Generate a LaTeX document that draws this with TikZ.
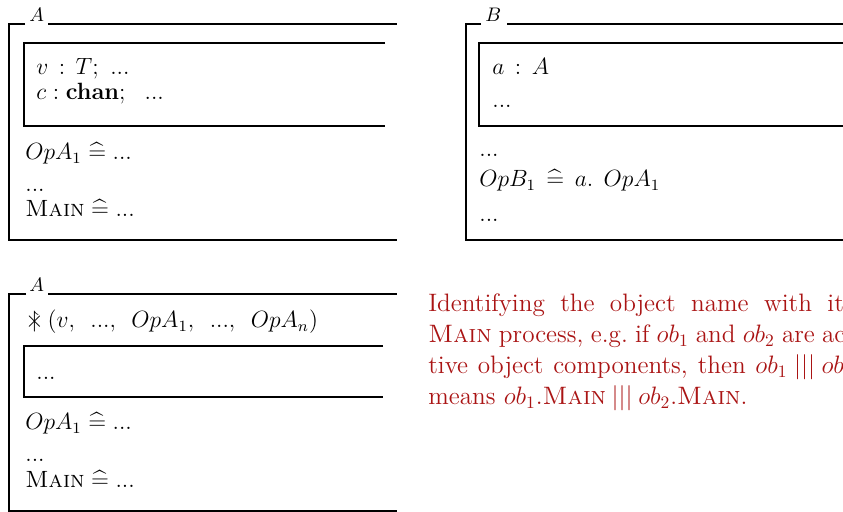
\documentclass[tikz,border=0pt]{standalone}
\usepackage{amssymb}
\definecolor{ozred}{RGB}{170,20,20}
\newcommand{\ozvis}{\mathord{\ooalign{\hfil$\upharpoonright$\hfil\cr\hfil$\times$\hfil\cr}}\,}
\newcommand{\ozdefs}{\mathrel{\widehat{=}}}
\tikzset{
  frame/.style={line width=1.2pt},
  lbl/.style={anchor=base west, inner sep=0pt, font=\fontsize{10}{12}\selectfont, transform shape, scale=1.12},
  txt/.style={anchor=base west, inner sep=0pt, font=\fontsize{12}{14}\selectfont, transform shape, scale=1.12},
  redtxt/.style={anchor=base west, inner sep=0pt, text=ozred, font=\fontsize{14.4}{17}\selectfont}
}
\begin{document}
\begin{tikzpicture}[x=0.5714pt,y=-0.5714pt]
\useasboundingbox (0,0) rectangle (843,512);
\clip (0,0) rectangle (843,512);
% ---- top-left class A
\node[lbl] (labA1) at (29,22) {$A$};
\draw[frame] (25,24) -- (9,24) -- (9,240) -- (397,240);
\draw[frame] (48,24) -- (397,24);
\draw[frame] (385,43) -- (24,43) -- (24,126) -- (385,126);
\node[txt] (a1l1) at (36,75) {$v \,:\, T;\ ...$};
\node[txt] (a1l2) at (36,100) {$c : \mathbf{chan};\ \ ...$};
\node[txt] (a1l3) at (25,160) {$OpA_1 \ozdefs ...$};
\node[txt] (a1l4) at (25,192) {$...$};
\node[txt] (a1l5) at (25,217) {$\textsc{Main} \ozdefs ...$};
% ---- top-right class B
\node[lbl] (labB) at (485,22) {$B$};
\draw[frame] (481,24) -- (466,24) -- (466,240) -- (843,240);
\draw[frame] (507,24) -- (843,24);
\draw[frame] (843,43) -- (479,43) -- (479,126) -- (843,126);
\node[txt] (bl1) at (492,75) {$a \,:\, A$};
\node[txt] (bl2) at (492,108) {$...$};
\node[txt] (bl3) at (479,157) {$...$};
\node[txt] (bl4) at (479,187) {$OpB_1 \,\ozdefs\, a.\;\,OpA_1$};
\node[txt] (bl5) at (479,222) {$...$};
% ---- bottom-left class A with visibility list
\node[lbl] (labA2) at (29,292) {$A$};
\draw[frame] (26,294) -- (9,294) -- (9,511) -- (397,511);
\draw[frame] (48,294) -- (397,294);
\draw[frame] (383,346) -- (24,346) -- (24,397) -- (383,397);
\node[txt] (a2l0) at (25,328) {$\ozvis(v,\ \,...,\ \,OpA_1,\ \,...,\ \,OpA_n)$};
\node[txt] (a2l1) at (36,380) {$...$};
\node[txt] (a2l2) at (25,430) {$OpA_1 \ozdefs ...$};
\node[txt] (a2l3) at (25,462) {$...$};
\node[txt] (a2l4) at (25,487) {$\textsc{Main} \ozdefs ...$};
% ---- red explanation
\node[redtxt] (r1) at (428,312) {\makebox[243pt][s]{Identifying the object name with its}};
\node[redtxt] (r2) at (428,343) {\makebox[243pt][s]{\textsc{Main} process, e.g.\ if $ob_1$ and $ob_2$ are ac-}};
\node[redtxt] (r3) at (428,374) {\makebox[243pt][s]{tive object components, then $ob_1 \mathbin{|||} ob_2$}};
\node[redtxt] (r4) at (428,405) {means $ob_1.\textsc{Main} \mathbin{|||} ob_2.\textsc{Main}$.};
\end{tikzpicture}
\end{document}
